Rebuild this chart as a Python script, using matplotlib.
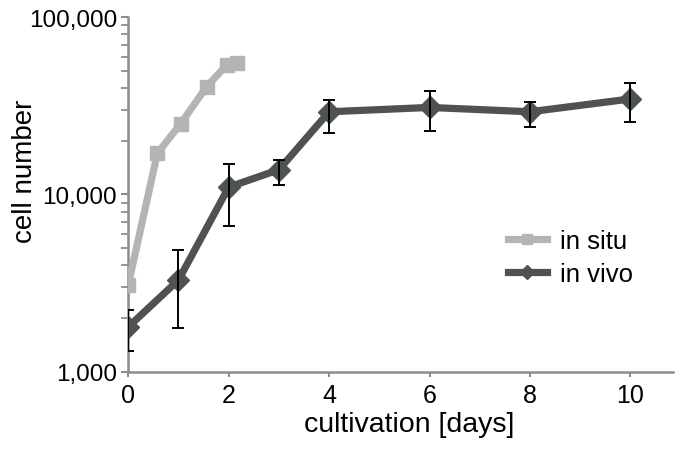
import matplotlib
matplotlib.use("Agg")
import matplotlib.pyplot as plt
from matplotlib.ticker import FuncFormatter, LogLocator, NullFormatter
import numpy as np

plt.rcParams['font.family'] = ['Liberation Sans', 'DejaVu Sans']

# in situ series
situ_x = [0, 0.58, 1.04, 1.56, 1.96, 2.17]
situ_y = [3100, 17100, 25000, 40600, 53800, 55500]

# in vivo series
vivo_x = [0, 1, 2, 3, 4, 6, 8, 10]
vivo_y = [1790, 3290, 11000, 13800, 29300, 31000, 29300, 34600]
vivo_hi = [2240, 4880, 14900, 15700, 34300, 38500, 33400, 42600]
vivo_lo = [1300, 1770, 6670, 11300, 22200, 22700, 24100, 25500]

xticks = [0, 2, 4, 6, 8, 10]
yticks = [1000, 10000, 100000]

fig = plt.figure(figsize=(6.77, 4.52), dpi=100)
ax = fig.add_axes([0.1895, 0.1755, 0.8046, 0.784])

c_situ = '#b4b4b4'
c_vivo = '#4e5252'
c_axis = '#8c8c8c'

ax.plot(situ_x, situ_y, color=c_situ, lw=5.2, marker='s', ms=10,
        solid_joinstyle='round', label='in situ', zorder=3)

yerr = [np.array(vivo_y) - np.array(vivo_lo), np.array(vivo_hi) - np.array(vivo_y)]
ax.errorbar(vivo_x, vivo_y, yerr=yerr, fmt='none', ecolor='black',
            elinewidth=1.4, capsize=4.5, capthick=1.4, zorder=4)
ax.plot(vivo_x, vivo_y, color=c_vivo, lw=5.2, marker='D', ms=11,
        solid_joinstyle='round', label='in vivo', zorder=3)

ax.set_yscale('log')
ax.set_ylim(1000, 100000)
ax.set_xlim(0, 10.85)
ax.set_xticks(xticks)
ax.set_yticks(yticks)
ax.yaxis.set_major_formatter(FuncFormatter(lambda v, p: f"{int(round(v)):,}"))
ax.yaxis.set_minor_locator(LogLocator(base=10, subs=np.arange(2, 10)))
ax.yaxis.set_minor_formatter(NullFormatter())

for s in ['top', 'right']:
    ax.spines[s].set_visible(False)
for s in ['left', 'bottom']:
    ax.spines[s].set_color(c_axis)
    ax.spines[s].set_linewidth(1.8)

ax.tick_params(axis='y', which='major', color=c_axis, width=1.5, length=5,
               labelsize=17.5, pad=3)
ax.tick_params(axis='y', which='minor', color=c_axis, width=1.3, length=5)
ax.tick_params(axis='x', which='major', color=c_axis, width=1.5, length=3.5,
               labelsize=18, pad=5)

ax.set_xlabel('cultivation [days]', fontsize=20.5)
ax.set_ylabel('cell number', fontsize=20)
ax.xaxis.set_label_coords(0.515, -0.111)
ax.yaxis.set_label_coords(-0.166, 0.569)

leg = fig.legend(loc='upper left', bbox_to_anchor=(0.750, 0.491),
                 bbox_transform=fig.transFigure, frameon=False,
                 fontsize=18.5, handlelength=1.52, handletextpad=0.5,
                 labelspacing=0.36, markerscale=0.65, borderpad=0,
                 borderaxespad=0)

fig.savefig('out.png', dpi=100)
